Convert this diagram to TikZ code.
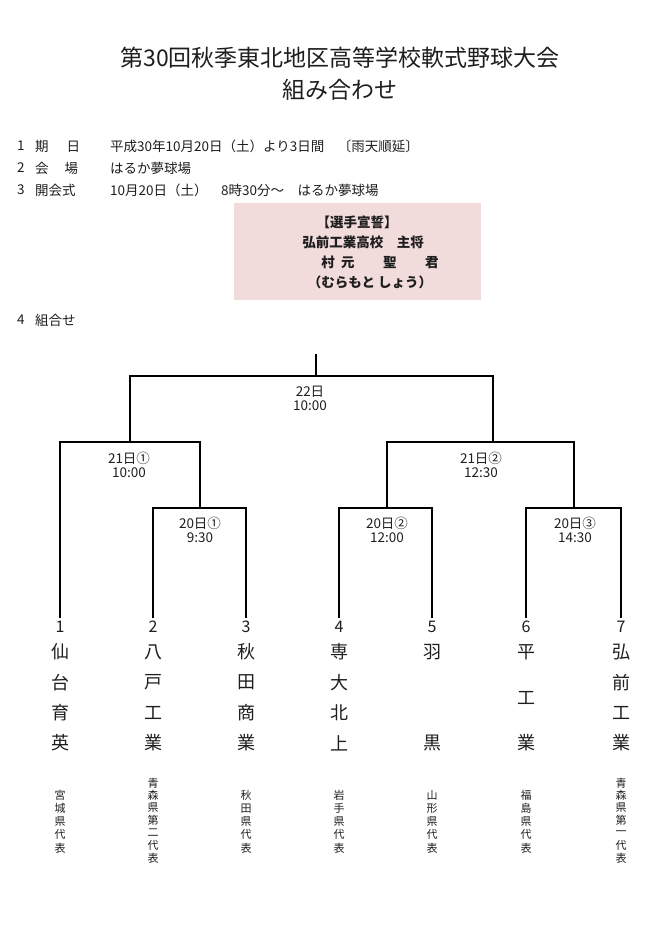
\documentclass[tikz,border=0pt]{standalone}
\usepackage{fontspec}
\setmainfont{Noto Sans CJK JP}
\usetikzlibrary{positioning}
\definecolor{pinkbox}{HTML}{F2DCDB}
\definecolor{inkgray}{HTML}{1E1E1E}

\begin{document}
\begin{tikzpicture}[x=1pt,y=-1pt,
  every node/.style={inner sep=0pt,text=inkgray},
  bracket/.style={line width=1.6pt,black},
  info/.style={font=\fontsize{13.5}{16}\selectfont,anchor=west},
  oathline/.style={font=\fontsize{13.5}{16}\selectfont\bfseries},
  slot/.style={font=\fontsize{13.5}{14}\selectfont,align=center},
  seed/.style={font=\fontsize{16}{18}\selectfont,anchor=north,inner ysep=3pt},
  school/.style={font=\fontsize{18}{20}\selectfont},
  pref/.style={font=\fontsize{11}{12}\selectfont}]
\useasboundingbox (0,0) rectangle (652,946);
\fill[white] (0,0) rectangle (652,946);

% title
\node[font=\fontsize{23}{26}\selectfont] (title) at (340,58) {第30回秋季東北地区高等学校軟式野球大会};
\node[font=\fontsize{23}{26}\selectfont] (subtitle) at (340,90) {組み合わせ};

% outline
\node[info] (n1) at (17,146) {1};
\node[info] (k1) at (35,146) {期\hspace{18pt}日};
\node[info] (v1) at (110,146) {平成30年10月20日（土）より3日間　〔雨天順延〕};
\node[info] (n2) at (17,168) {2};
\node[info] (k2) at (35,168) {会\hspace{16pt}場};
\node[info] (v2) at (110,168) {はるか夢球場};
\node[info] (n3) at (17,190) {3};
\node[info] (k3) at (35,190) {開会式};
\node[info] (v3) at (110,190) {10月20日（土）　8時30分～　はるか夢球場};

% oath box
\fill[pinkbox] (234,203) rectangle (481,300);
\node[oathline] (o1) at (357,222) {【選手宣誓】};
\node[oathline] (o2) at (363,242) {弘前工業高校　主将};
\node[oathline] (o3) at (380,262) {村\hspace{6.5pt}元\hspace{28.5pt}聖\hspace{28.5pt}君};
\node[oathline] (o4) at (370,282) {（むらもと しょう）};

\node[info] (n4) at (17,320) {4};
\node[info] (k4) at (35,320) {組合せ};

% bracket
\coordinate (top) at (316,354);
\coordinate (final) at (316,376);
\coordinate (semi1) at (130,442);
\coordinate (semi2) at (493,442);
\coordinate (r1) at (200,508);
\coordinate (r2) at (387,508);
\coordinate (r3) at (574,508);
\foreach \i/\x in {1/60,2/153,3/246,4/339,5/432,6/526,7/621}
  \node[seed] (t\i) at (\x,618) {\i};

\draw[bracket] (top) -- (final);
\draw[bracket] (semi1) |- (final) -| (semi2);
\draw[bracket] (t1.north) |- (semi1) -| (r1);
\draw[bracket] (r2) |- (semi2) -| (r3);
\draw[bracket] (t2.north) |- (r1) -| (t3.north);
\draw[bracket] (t4.north) |- (r2) -| (t5.north);
\draw[bracket] (t6.north) |- (r3) -| (t7.north);

\node[slot] (l-final) at (310,398.5) {22日\\10:00};
\node[slot] (l-semi1) at (129,465) {21日①\\10:00};
\node[slot] (l-semi2) at (481,465) {21日②\\12:30};
\node[slot] (l-r1) at (200,530) {20日①\\9:30};
\node[slot] (l-r2) at (387,530) {20日②\\12:00};
\node[slot] (l-r3) at (575,530) {20日③\\14:30};

% schools
\foreach \i/\x/\gap/\chars in {1/60/30.3/{仙,台,育,英},2/153/30.3/{八,戸,工,業},3/246/30.3/{秋,田,商,業},
    4/339/30.3/{専,大,北,上},5/432/91/{羽,黒},6/526/45.5/{平,工,業},7/621/30.3/{弘,前,工,業}}
  \foreach \c [count=\j] in \chars
    \node[school] (s\i-\j) at (\x,{652+(\j-1)*\gap}) {\c};

% prefectures
\foreach \i/\x/\y/\gap/\chars in {1/60/795/13.25/{宮,城,県,代,表},2/153/783/12.5/{青,森,県,第,二,代,表},
    3/246/795/13.25/{秋,田,県,代,表},4/339/795/13.25/{岩,手,県,代,表},5/432/795/13.25/{山,形,県,代,表},
    6/526/795/13.25/{福,島,県,代,表},7/621/783/12.5/{青,森,県,第,一,代,表}}
  \foreach \c [count=\j] in \chars
    \node[pref] (p\i-\j) at (\x,{\y+(\j-1)*\gap}) {\c};
\end{tikzpicture}
\end{document}
